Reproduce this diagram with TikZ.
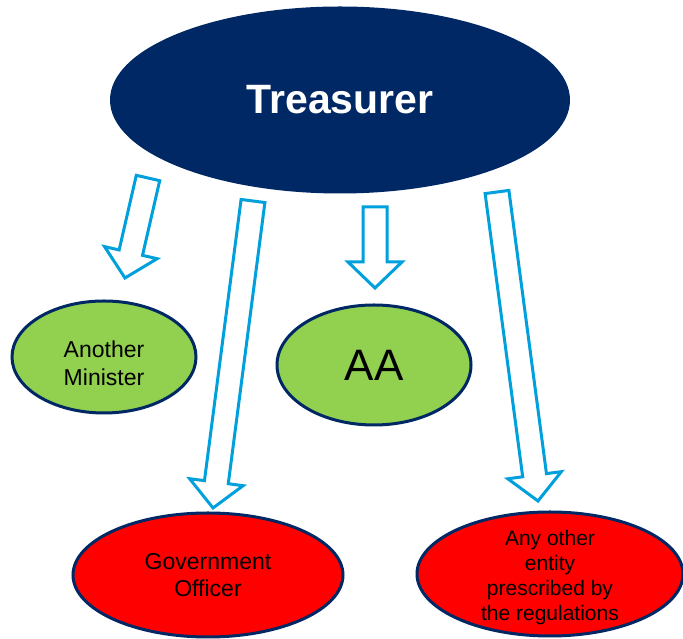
\documentclass[tikz,border=0pt]{standalone}
\usepackage{fontspec}
\setmainfont{Liberation Sans}
\usepackage{tikz}
\usetikzlibrary{shapes.geometric,calc,positioning}

\definecolor{navy}{RGB}{0,40,100}
\definecolor{leafgreen}{RGB}{146,208,80}
\definecolor{skyblue}{RGB}{0,160,220}

% hollow block arrow from tail #1 to tip #2
\newcommand\blockarrow[2]{%
  \draw[hollow] let \p1=($(#2)-(#1)$), \n1={atan2(\y1,\x1)}, \n2={veclen(\x1,\y1)} in
    [shift={(#1)}, rotate=\n1]
    (0,12) -- (\n2-26,12) -- (\n2-26,27) -- (\n2,0) -- (\n2-26,-27) -- (\n2-26,-12) -- (0,-12) -- cycle;}

\begin{document}
\begin{tikzpicture}[
    x=1pt, y=1pt,
    role/.style={ellipse, draw=navy, line width=3pt, inner sep=0pt, align=center},
    boss/.style={role, fill=navy, text=white, font=\fontsize{41}{46}\selectfont\bfseries},
    agent/.style={role, fill=leafgreen, font=\fontsize{23}{28}\selectfont},
    other/.style={role, fill=red, font=\fontsize{23}{27}\selectfont},
    hollow/.style={draw=skyblue, line width=3pt, line join=miter, fill=white},
    ]
\useasboundingbox (0,0) rectangle (683,639);

% ---- top ----
\node[boss, minimum width=457, minimum height=184] (treas) at (340,539) {Treasurer};

% ---- delegates ----
\node[agent, minimum width=184, minimum height=112,
      label={[align=center, font=\fontsize{23}{28}\selectfont, yshift=-6pt]center:{Another\\Minister}}] (minister) at (104,282) {};
\node[agent, minimum width=194, minimum height=120, font=\fontsize{44}{48}\selectfont] (aa) at (374,274) {AA};
\node[other, minimum width=270, minimum height=124] (govt) at (208,64) {Government\\Officer};
\node[other, minimum width=266, minimum height=124,
      label={[align=center, font=\fontsize{21}{25}\selectfont, yshift=-4pt]center:{Any other\\entity\\prescribed by\\the regulations}}] (other) at (550,65) {};

% ---- block arrows ----
\coordinate (t1) at (148,461); \coordinate (h1) at (125,361);
\coordinate (t2) at (253,438); \coordinate (h2) at (213,131);
\coordinate (t3) at (375,432); \coordinate (h3) at (375,351);
\coordinate (t4) at (497,447); \coordinate (h4) at (538,138);
\blockarrow{t1}{h1}
\blockarrow{t2}{h2}
\blockarrow{t3}{h3}
\blockarrow{t4}{h4}
\end{tikzpicture}
\end{document}
